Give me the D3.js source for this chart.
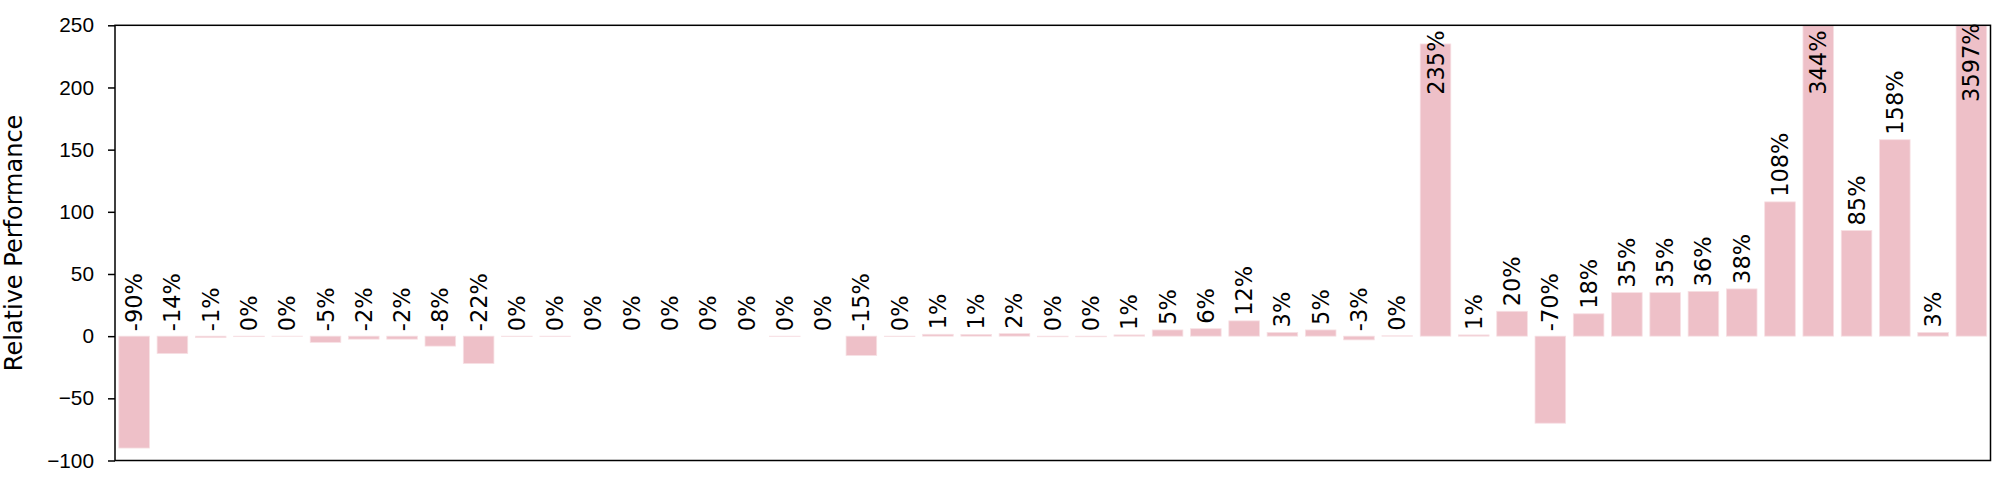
<!DOCTYPE html>
<html>
<head>
<meta charset="utf-8">
<script src="https://cdn.jsdelivr.net/npm/d3@7"></script>
<style>
  html, body { margin: 0; padding: 0; background: #fff; }
  svg { display: block; font-family: "DejaVu Sans", sans-serif; }
</style>
</head>
<body>
<script>
// relative performance per benchmark, in percent (bar height)
const values = [
  -90, -14, -1.2, -0.4, -0.1, -5, -2.4, -2.4, -8, -22,
  -0.3, -0.2, 0, 0, 0, 0, 0, -0.2, 0, -15.5,
  -0.3, 1.5, 1.4, 2, -0.5, -0.5, 1, 5, 6, 12.3,
  3, 5, -3, 0.3, 235, 1, 20, -70, 18, 35,
  35, 36, 38, 108, 344, 85, 158, 3, 3597
];
// annotation text written above each bar
const labels = [
  '-90%', '-14%', '-1%', '0%', '0%', '-5%', '-2%', '-2%', '-8%', '-22%',
  '0%', '0%', '0%', '0%', '0%', '0%', '0%', '0%', '0%', '-15%',
  '0%', '1%', '1%', '2%', '0%', '0%', '1%', '5%', '6%', '12%',
  '3%', '5%', '-3%', '0%', '235%', '1%', '20%', '-70%', '18%', '35%',
  '35%', '36%', '38%', '108%', '344%', '85%', '158%', '3%', '3597%'
];
const yTicks = [-100, -50, 0, 50, 100, 150, 200, 250];
const yDomain = [-100, 250];
const labelCap = 220;

const width = 2004, height = 486;
const margin = {top: 25.3, right: 13.5, bottom: 25.5, left: 115};

const svg = d3.select('body').append('svg')
  .attr('width', width)
  .attr('height', height);

const x = d3.scaleBand()
  .domain(d3.range(values.length))
  .range([margin.left, width - margin.right])
  .paddingInner(0.2)
  .paddingOuter(0.1);

const y = d3.scaleLinear()
  .domain(yDomain)
  .range([height - margin.bottom, margin.top]);

svg.append('clipPath')
  .attr('id', 'plot-clip')
  .append('rect')
  .attr('x', margin.left)
  .attr('y', margin.top)
  .attr('width', width - margin.left - margin.right)
  .attr('height', height - margin.top - margin.bottom);

// bars
svg.append('g')
  .attr('clip-path', 'url(#plot-clip)')
  .selectAll('rect')
  .data(values)
  .enter().append('rect')
  .attr('x', (d, i) => x(i))
  .attr('width', x.bandwidth())
  .attr('y', d => y(Math.max(d, 0)))
  .attr('height', d => Math.abs(y(d) - y(0)))
  .attr('fill', '#eec0c8')
  .attr('stroke', '#f7e0e4')
  .attr('stroke-width', 0.8);

// value labels, rotated; very tall bars get their label pinned inside the plot
svg.append('g')
  .selectAll('text')
  .data(values)
  .enter().append('text')
  .attr('transform', (d, i) => {
    const cx = x(i) + x.bandwidth() / 2;
    const cy = d > labelCap ? y(labelCap) : y(Math.max(d, 0)) - 5;
    return `translate(${cx},${cy}) rotate(-90)`;
  })
  .attr('text-anchor', d => d > labelCap ? 'middle' : 'start')
  .attr('dominant-baseline', 'central')
  .attr('font-size', '22.5px')
  .attr('fill', '#000')
  .text((d, i) => labels[i]);

// y axis
const yAxis = svg.append('g')
  .attr('transform', `translate(${margin.left},0)`)
  .call(d3.axisLeft(y)
    .tickValues(yTicks)
    .tickSize(7)
    .tickSizeOuter(0)
    .tickPadding(14)
    .tickFormat(d => d < 0 ? '\u2212' + Math.abs(d) : d));

yAxis.select('.domain').remove();
yAxis.selectAll('line').attr('stroke', '#000').attr('stroke-width', 1.5);
yAxis.selectAll('text')
  .attr('font-size', '20.8px')
  .attr('fill', '#000');

// frame
svg.append('rect')
  .attr('x', margin.left)
  .attr('y', margin.top)
  .attr('width', width - margin.left - margin.right)
  .attr('height', height - margin.top - margin.bottom)
  .attr('fill', 'none')
  .attr('stroke', '#000')
  .attr('stroke-width', 1.5);

// axis title; baseline on the right so the ascenders stay inside the page
svg.append('text')
  .attr('transform', `translate(22,${(margin.top + height - margin.bottom) / 2}) rotate(-90)`)
  .attr('text-anchor', 'middle')
  .attr('font-size', '24px')
  .attr('fill', '#000')
  .text('Relative Performance');
</script>
</body>
</html>
